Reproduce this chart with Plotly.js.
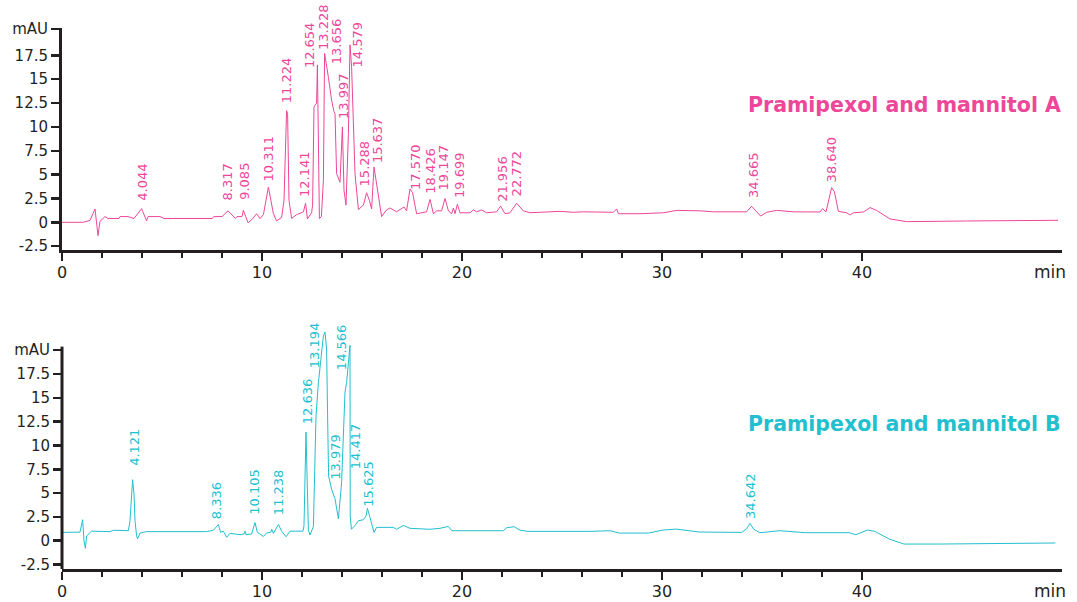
<!DOCTYPE html>
<html><head><meta charset="utf-8">
<script src="https://cdn.plot.ly/plotly-3.0.1.min.js"></script>
<style>html,body{margin:0;padding:0;background:#fff}#chart{width:1077px;height:602px}</style>
</head><body><div id="chart"></div>
<script>
// ---- Chromatogram A (min, mAU) ----
const timeA = [0,1.05,1.4,1.65,1.8,1.9,2.15,2.3,2.85,2.9,3.3,3.6,3.98,4.23,4.3,4.9,5.1,7.5,7.6,8.0,8.3,8.67,8.75,9.0,9.07,9.3,9.5,9.73,9.9,10.07,10.32,10.57,10.73,10.98,11.1,11.18,11.23,11.28,11.35,11.48,11.73,12.07,12.18,12.27,12.48,12.53,12.6,12.73,12.77,12.87,12.97,13.07,13.13,13.32,13.48,13.6,13.65,13.73,13.9,14.02,14.1,14.2,14.32,14.4,14.48,14.65,14.82,15.07,15.23,15.37,15.48,15.6,15.82,15.98,16.23,16.4,16.73,17.0,17.1,17.23,17.4,17.53,17.73,18.23,18.4,18.57,18.73,18.98,19.15,19.32,19.48,19.57,19.65,19.77,19.9,20.4,20.57,20.73,20.98,21.23,21.73,21.93,22.15,22.4,22.73,23.07,23.4,23.9,24.9,25.57,26.07,27.57,27.73,27.82,28.9,30.07,30.73,31.9,32.57,34.23,34.48,34.93,35.23,35.73,36.57,37.9,38.03,38.2,38.48,38.62,38.82,39.23,39.4,39.57,40.07,40.4,40.73,41.4,42.23,45.23,49.8];
const signalA = [0,0,0.2,1.4,-1.4,0.1,0.6,0.4,0.4,0.6,0.6,0.4,1.43,0.15,0.6,0.6,0.4,0.4,0.6,0.6,1.2,0.4,0.6,0.6,1.26,-0.05,0.3,0.9,0.4,0.8,3.7,0.9,0.15,0.5,2.3,7.2,11.7,11.4,2.3,0.4,0.8,1.1,2.0,0.35,1.0,1.8,12.1,12.5,16.5,0.4,0.6,4.4,17.7,15.2,12.8,11.6,11.4,5.1,4.2,10.0,3.35,1.8,9.3,18.6,16.3,5.1,1.33,1.8,3.1,2.3,1.4,5.8,2.6,0.6,1.3,1.5,1.1,1.5,1.6,1.2,3.5,3.1,0.9,1.1,2.4,0.9,1.2,1.2,2.5,1.2,0.9,1.5,0.9,1.9,1.0,1.0,1.3,1.1,1.3,1.0,1.1,1.7,0.9,1.0,2.0,1.2,1.0,1.05,1.15,1.05,1.1,1.05,1.4,0.9,0.9,1.0,1.25,1.2,1.1,1.1,1.68,0.66,1.05,1.25,1.1,1.08,1.43,1.1,3.63,3.2,1.15,1.0,0.77,1.0,1.08,1.54,1.25,0.35,0.07,0.14,0.21];
const peakTextA = ["4.044","8.317","9.085","10.311","11.224","12.141","12.654","13.228","13.656","13.997","14.579","15.288","15.637","17.570","18.426","19.147","19.699","21.956","22.772","34.665","38.640"];
const peakTimeA = [4.01,8.28,9.15,10.32,11.23,12.15,12.37,13.07,13.7,14.07,14.79,15.12,15.79,17.65,18.45,19.07,19.87,21.99,22.74,34.57,38.49];
const peakLevelA = [2.13,2.2,2.2,4.22,12.34,2.55,16.1,18.0,16.46,10.77,16.1,3.7,6.08,3.28,2.9,3.28,2.48,2.02,2.59,2.48,4.06];

// ---- Chromatogram B (min, mAU) ----
const timeB = [0,0.9,1.03,1.1,1.17,1.23,1.48,2.4,2.57,3.32,3.4,3.53,3.6,3.65,3.73,3.78,3.9,4.23,7.23,7.57,7.82,7.93,8.07,8.23,8.4,8.9,9.1,9.15,9.2,9.48,9.65,9.77,10.07,10.23,10.45,10.48,10.57,10.82,10.98,11.2,11.4,12.05,12.1,12.2,12.32,12.4,12.57,12.7,12.82,12.93,13.07,13.15,13.23,13.28,13.33,13.48,13.65,13.82,13.98,14.15,14.23,14.4,14.41,14.47,14.65,14.82,15.07,15.2,15.27,15.4,15.6,15.73,16.57,16.73,17.07,17.4,18.4,18.9,19.32,19.48,22.07,22.23,22.6,22.9,23.3,26.4,27.4,27.87,29.32,30.05,30.7,31.88,33.98,34.22,34.4,34.58,34.89,35.89,37.17,39.36,39.69,40.27,40.64,41.37,42.1,43.92,49.67];
const signalB = [0.87,0.9,2.2,0.0,-0.8,0.5,1.0,0.95,1.1,1.05,2.1,6.4,4.9,2.1,0.5,0.2,0.8,0.95,0.95,1.1,1.7,0.87,1.0,0.35,0.77,0.63,0.7,1.0,0.63,0.7,1.9,0.87,0.45,0.8,0.9,1.2,0.77,1.7,1.0,0.42,1.0,1.0,1.6,11.4,1.1,0.6,1.5,13.1,16.6,18.7,21.5,21.9,20.1,13.1,6.8,5.4,4.4,2.3,6.1,15.6,16.6,20.5,2.6,1.2,1.6,2.1,2.2,2.6,3.4,2.45,0.87,1.4,1.4,1.2,1.6,1.3,1.2,1.3,1.5,1.05,1.05,1.36,1.47,1.1,0.98,0.98,1.05,0.8,0.8,1.12,1.22,0.91,0.87,1.22,1.82,1.22,0.84,1.05,0.84,0.84,0.63,1.12,0.98,0.17,-0.35,-0.35,-0.24];
const peakTextB = ["4.121","8.336","10.105","11.238","12.636","13.194","13.979","14.566","14.417","15.625","34.642"];
const peakTimeB = [3.65,7.73,9.65,10.82,12.29,12.6,13.7,13.95,14.65,15.32,34.4];
const peakLevelB = [7.7,2.17,2.62,2.62,12.1,18.0,6.3,17.8,7.4,3.5,2.17];

// ---- axis ticks ----
const xTickVals = [0,10,20,30,40];
const xMinorVals = [2,4,6,8,12,14,16,18,22,24,26,28,32,34,36,38];
const yTickValsA = [-2.5,0,2.5,5,7.5,10,12.5,15,17.5,20.25];
const yTickValsB = [-2.5,0,2.5,5,7.5,10,12.5,15,17.5,20.0];
const yTickText = ["-2.5","0","2.5","5","7.5","10","12.5","15","17.5","mAU"];
const titleA = "Pramipexol and mannitol A";
const titleB = "Pramipexol and mannitol B";

const PINK = "#ee4699";
const CYAN = "#22bfcf";
const INK = "#231f20";
const FONT = "DejaVu Sans, Verdana, sans-serif";

const traces = [
  {x: timeA, y: signalA, xaxis: "x", yaxis: "y", mode: "lines", line: {color: PINK, width: 1}, hoverinfo: "skip"},
  {x: timeB, y: signalB, xaxis: "x2", yaxis: "y2", mode: "lines", line: {color: CYAN, width: 1}, hoverinfo: "skip"}
];

function xAxis(anchor) {
  return {
    anchor: anchor, range: [0, 50], showgrid: false, zeroline: false,
    showline: true, linewidth: 3, linecolor: INK,
    tickmode: "array", tickvals: xTickVals, ticktext: xTickVals.map(String),
    ticks: "outside", ticklen: 8, tickwidth: 2.5, tickcolor: INK, ticklabelstandoff: -2,
    minor: {tickmode: "array", tickvals: xMinorVals, ticks: "outside", ticklen: 5, tickwidth: 2.5, tickcolor: INK, showgrid: false},
    tickfont: {family: FONT, size: 16, color: INK}, fixedrange: true
  };
}
function yAxis(anchor, domain, range, vals, showline) {
  return {
    anchor: anchor, domain: domain, range: range, showgrid: false, zeroline: false,
    showline: showline, linewidth: 3, linecolor: INK,
    tickmode: "array", tickvals: vals, ticktext: yTickText,
    ticks: "outside", ticklen: 8, tickwidth: 2.5, tickcolor: INK,
    tickfont: {family: FONT, size: 15, color: INK}, fixedrange: true
  };
}

const annotations = [];
function addPeaks(texts, times, levels, xr, yr, color) {
  texts.forEach((t, i) => {
    annotations.push({x: times[i], y: levels[i], xref: xr, yref: yr, text: t, textangle: -90,
      showarrow: false, xanchor: "center", yanchor: "bottom", borderpad: 0,
      font: {family: FONT, size: 13, color: color}});
  });
}
addPeaks(peakTextA, peakTimeA, peakLevelA, "x", "y", PINK);
addPeaks(peakTextB, peakTimeB, peakLevelB, "x2", "y2", CYAN);

annotations.push({x: 1, y: 12.3, xref: "paper", yref: "y", text: "<b>" + titleA + "</b>", showarrow: false,
  xanchor: "right", yanchor: "middle", borderpad: 0, xshift: 0, font: {family: FONT, size: 20.5, color: PINK}});
annotations.push({x: 1, y: 12.25, xref: "paper", yref: "y2", text: "<b>" + titleB + "</b>", showarrow: false,
  xanchor: "right", yanchor: "middle", borderpad: 0, xshift: 0, font: {family: FONT, size: 20.5, color: CYAN}});
annotations.push({x: 1, y: -2.9, xref: "paper", yref: "y", text: "min", showarrow: false,
  xanchor: "right", yanchor: "top", yshift: -10, xshift: 6, font: {family: FONT, size: 17, color: INK}});
annotations.push({x: 1, y: -2.97, xref: "paper", yref: "y2", text: "min", showarrow: false,
  xanchor: "right", yanchor: "top", yshift: -10, xshift: 6, font: {family: FONT, size: 17, color: INK}});

const layout = {
  width: 1077, height: 602,
  margin: {l: 62, r: 15, t: 20, b: 33},
  paper_bgcolor: "#ffffff", plot_bgcolor: "#ffffff",
  showlegend: false,
  xaxis: xAxis("y"),
  xaxis2: xAxis("y2"),
  yaxis: yAxis("x", [0.5811, 0.986], [-2.9, 20.4], yTickValsA, true),
  yaxis2: yAxis("x2", [0, 0.4536], [-2.97, 23.17], yTickValsB, false),
  shapes: [{type: "line", xref: "x2 domain", yref: "y2", x0: 0, x1: 0, y0: -2.97, y1: 20.37,
    line: {color: INK, width: 3}, layer: "above"}],
  annotations: annotations
};

Plotly.newPlot("chart", traces, layout, {staticPlot: true, displayModeBar: false});
</script>
</body></html>
